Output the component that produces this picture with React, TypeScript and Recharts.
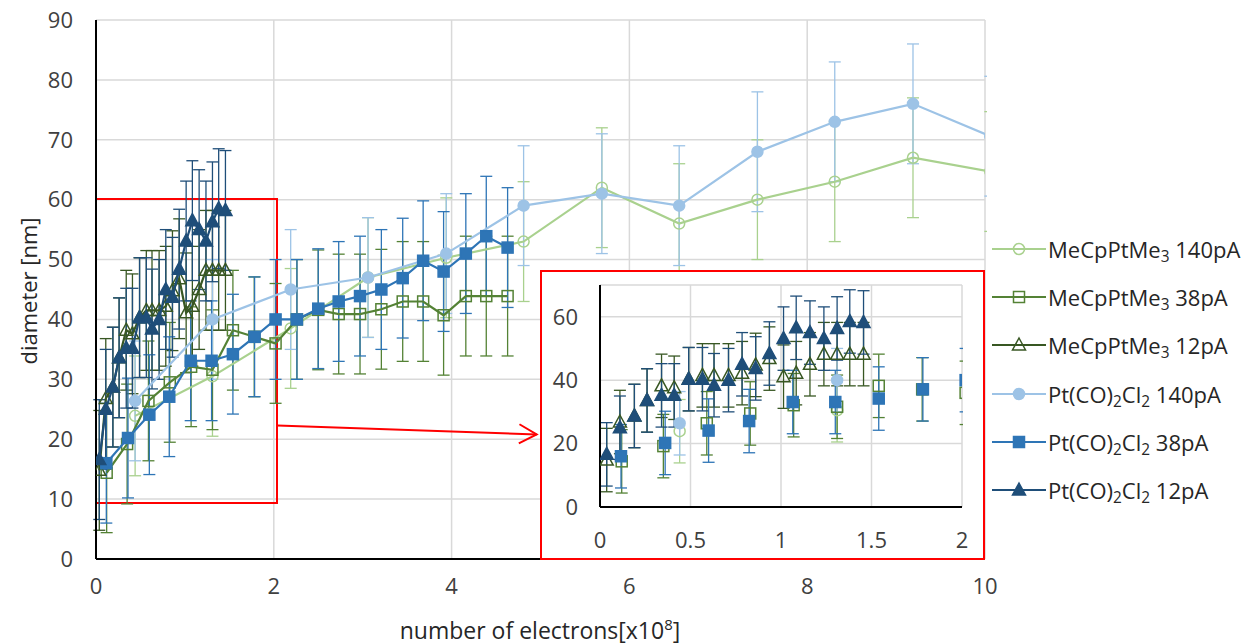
import type { ReactNode } from "react";
import {
	CartesianGrid,
	ComposedChart,
	ErrorBar,
	ReferenceArea,
	ReferenceLine,
	Scatter,
	XAxis,
	YAxis,
} from "recharts";

// x positions, in units of 10^8 electrons
const X_140 = [0.44, 1.31, 2.19, 3.06, 3.94, 4.81, 5.69, 6.56, 7.44, 8.31, 9.19, 10.06];
const X_38_MECP = [0.12, 0.35, 0.59, 0.83, 1.07, 1.31, 1.54, 1.78, 2.02, 2.26, 2.5, 2.73, 2.97, 3.21, 3.45, 3.68, 3.91, 4.16, 4.39, 4.63];
const X_38_PT = [0.116, 0.36, 0.6, 0.824, 1.065, 1.3, 1.54, 1.784, 2.02, 2.26, 2.5, 2.73, 2.97, 3.21, 3.45, 3.68, 3.91, 4.16, 4.39, 4.63];
const X_12 = [0.037, 0.11, 0.19, 0.26, 0.34, 0.41, 0.49, 0.566, 0.63, 0.71, 0.785, 0.86, 0.936, 1.014, 1.084, 1.16, 1.237, 1.31, 1.38, 1.456];

// diameters [nm]
const MECP_140 = [23.9, 30.5, 38.5, 47, 50.3, 53, 62, 56, 60, 63, 67, 64.7];
const MECP_38 = [14.4, 19.2, 26.4, 29.5, 32.1, 31.6, 38.2, 37.1, 36, 40, 41.6, 40.9, 40.9, 41.7, 43, 43, 40.7, 43.9, 43.9, 43.9];
const MECP_12 = [14.8, 26.8, 28.7, 33.6, 38.2, 37.6, 40.3, 41.5, 41.5, 41.5, 42.2, 44.8, 46.8, 41.1, 42.2, 45, 48.2, 48.2, 48.2, 48.2];
const PT_140 = [26.4, 40, 45, 47, 51, 59, 61, 59, 68, 73, 76, 70.6];
const PT_38 = [16, 20.2, 24.1, 27.1, 33.1, 33.1, 34.2, 37.1, 40, 40, 41.8, 43, 43.9, 45, 46.9, 49.8, 48, 51, 53.9, 52];
const PT_12 = [16.6, 25, 28.7, 33.6, 35.2, 35.2, 40.3, 40.3, 38.4, 40, 45, 43.7, 48.4, 53.1, 56.5, 55, 53.1, 56.3, 58.5, 58.2];

// error bar half-length [nm], same for every point
const ERR = 10;

const MAIN_X_TICKS = [0, 2, 4, 6, 8, 10];
const MAIN_Y_TICKS = [0, 10, 20, 30, 40, 50, 60, 70, 80, 90];
const INSET_X_TICKS = [0, 0.5, 1, 1.5, 2];
const INSET_Y_TICKS = [0, 20, 40, 60];

type Kind = "circle" | "square" | "triangle";

const toPoints = (xs: number[], ys: number[]) =>
	xs.map((x, i) => ({ x, y: ys[i], err: ERR }));

const SERIES = [
	{ key: "m140", pre: "mecp", cur: "140pA", xs: X_140, ys: MECP_140, color: "#a9d18e", kind: "circle" as Kind, filled: false },
	{ key: "m38", pre: "mecp", cur: "38pA", xs: X_38_MECP, ys: MECP_38, color: "#548235", kind: "square" as Kind, filled: false },
	{ key: "m12", pre: "mecp", cur: "12pA", xs: X_12, ys: MECP_12, color: "#385723", kind: "triangle" as Kind, filled: false },
	{ key: "p140", pre: "pt", cur: "140pA", xs: X_140, ys: PT_140, color: "#9dc3e6", kind: "circle" as Kind, filled: true },
	{ key: "p38", pre: "pt", cur: "38pA", xs: X_38_PT, ys: PT_38, color: "#2e75b6", kind: "square" as Kind, filled: true },
	{ key: "p12", pre: "pt", cur: "12pA", xs: X_12, ys: PT_12, color: "#1f4e79", kind: "triangle" as Kind, filled: true },
];

const FONT = "'Open Sans', Lato, sans-serif";
const TICK = { fill: "#404040", fontSize: 22 };

function Marker({ cx, cy, kind, color, filled }: any) {
	if (cx == null || cy == null) return null;
	const fill = filled ? color : "none";
	if (kind === "circle")
		return <circle cx={cx} cy={cy} r={5.5} fill={fill} stroke={color} strokeWidth={1.5} />;
	if (kind === "square")
		return <rect x={cx - 5.5} y={cy - 5.5} width={11} height={11} fill={fill} stroke={color} strokeWidth={1.5} />;
	return (
		<polygon
			points={`${cx},${cy - 7} ${cx + 6.5},${cy + 5} ${cx - 6.5},${cy + 5}`}
			fill={fill}
			stroke={color}
			strokeWidth={1.5}
		/>
	);
}

function Arrow(p: any) {
	const { x1, y1, x2, y2 } = p;
	const ang = Math.atan2(y2 - y1, x2 - x1);
	const L = 20;
	const W = 0.5;
	const a = `${x2 - L * Math.cos(ang - W)},${y2 - L * Math.sin(ang - W)}`;
	const b = `${x2 - L * Math.cos(ang + W)},${y2 - L * Math.sin(ang + W)}`;
	return (
		<g>
			<line x1={x1} y1={y1} x2={x2} y2={y2} stroke="#ff0000" strokeWidth={2} />
			<polyline points={`${a} ${x2},${y2} ${b}`} fill="none" stroke="#ff0000" strokeWidth={2} />
		</g>
	);
}

function label(pre: string, cur: string): ReactNode {
	const sub = { fontSize: "0.7em", verticalAlign: "-0.25em", lineHeight: 0 } as const;
	if (pre === "mecp")
		return (
			<>
				MeCpPtMe<span style={sub}>3</span> {cur}
			</>
		);
	return (
		<>
			Pt(CO)<span style={sub}>2</span>Cl<span style={sub}>2</span> {cur}
		</>
	);
}

function MainChart() {
	return (
		<ComposedChart width={1257} height={644} margin={{ top: 20, right: 272, bottom: 0, left: 0 }}>
			<CartesianGrid stroke="#d9d9d9" strokeWidth={1.5} />
			<XAxis
				type="number"
				dataKey="x"
				domain={[0, 10]}
				ticks={MAIN_X_TICKS}
				allowDataOverflow
				height={85}
				tickLine={false}
				tickSize={0}
				tickMargin={19}
				axisLine={{ stroke: "#000", strokeWidth: 2 }}
				tick={TICK}
			/>
			<YAxis
				type="number"
				domain={[0, 90]}
				ticks={MAIN_Y_TICKS}
				allowDataOverflow
				width={96}
				tickLine={false}
				tickSize={0}
				tickMargin={23}
				axisLine={{ stroke: "#000", strokeWidth: 2 }}
				tick={TICK}
			/>
			{SERIES.map((s) => (
				<Scatter
					key={s.key}
					data={toPoints(s.xs, s.ys)}
					dataKey="y"
					line={{ stroke: s.color, strokeWidth: 2.2 }}
					shape={(p: any) => <Marker {...p} kind={s.kind} color={s.color} filled={s.filled} />}
					isAnimationActive={false}
				>
					<ErrorBar dataKey="err" direction="y" width={6} stroke={s.color} strokeWidth={1.3} isAnimationActive={false} />
				</Scatter>
			))}
			<ReferenceArea x1={0} x2={2.036} y1={9.35} y2={60.1} fill="none" stroke="#ff0000" strokeWidth={2} />
			<ReferenceLine
				segment={[
					{ x: 2.04, y: 22.3 },
					{ x: 4.957, y: 20.8 },
				]}
				shape={Arrow}
			/>
		</ComposedChart>
	);
}

function InsetChart() {
	return (
		<ComposedChart width={441} height={286} margin={{ top: 13, right: 21, bottom: 0, left: 0 }}>
			<CartesianGrid stroke="#d9d9d9" strokeWidth={1.5} />
			<XAxis
				type="number"
				dataKey="x"
				domain={[0, 2]}
				ticks={INSET_X_TICKS}
				allowDataOverflow
				height={51}
				tickLine={false}
				tickSize={0}
				tickMargin={25}
				axisLine={{ stroke: "#000", strokeWidth: 2 }}
				tick={TICK}
			/>
			<YAxis
				type="number"
				domain={[0, 70]}
				ticks={INSET_Y_TICKS}
				allowDataOverflow
				width={58}
				tickLine={false}
				tickSize={0}
				tickMargin={22}
				axisLine={{ stroke: "#000", strokeWidth: 2 }}
				tick={TICK}
			/>
			{SERIES.map((s) => (
				<Scatter
					key={s.key}
					data={toPoints(s.xs, s.ys)}
					dataKey="y"
					shape={(p: any) => <Marker {...p} kind={s.kind} color={s.color} filled={s.filled} />}
					isAnimationActive={false}
				>
					<ErrorBar dataKey="err" direction="y" width={6} stroke={s.color} strokeWidth={1.3} isAnimationActive={false} />
				</Scatter>
			))}
		</ComposedChart>
	);
}

export default function App() {
	return (
		<div style={{ position: "absolute", left: 0, top: 0, width: 1257, height: 644, fontFamily: FONT, background: "#fff" }}>
			<MainChart />
			{/* hides error bars of points that lie past the x=10 edge */}
			<div style={{ position: "absolute", left: 987, top: 0, width: 270, height: 560, background: "#fff" }} />
			<div
				style={{
					position: "absolute",
					left: 540,
					top: 270,
					width: 445,
					height: 290,
					boxSizing: "border-box",
					border: "2px solid #ff0000",
					background: "#fff",
				}}
			>
				<InsetChart />
				{/* hides error bars of points that lie past the x=2 edge */}
				<div style={{ position: "absolute", left: 421, top: 8, width: 20, height: 227, background: "#fff" }} />
			</div>
			<div
				style={{
					position: "absolute",
					left: 28,
					top: 291,
					transform: "translate(-50%, -50%) rotate(-90deg)",
					whiteSpace: "nowrap",
					fontSize: 22,
					color: "#262626",
				}}
			>
				diameter [nm]
			</div>
			<div
				style={{
					position: "absolute",
					left: 540,
					top: 630,
					transform: "translate(-50%, -50%)",
					whiteSpace: "nowrap",
					fontSize: 23,
					color: "#262626",
				}}
			>
				number of electrons[x10<sup style={{ fontSize: "0.65em", lineHeight: 0 }}>8</sup>]
			</div>
			<div style={{ position: "absolute", left: 992, top: 225 }}>
				{SERIES.map((s) => (
					<div key={s.key} style={{ display: "flex", alignItems: "center", height: 48.2, fontSize: 22, color: "#262626", whiteSpace: "nowrap" }}>
						<svg width={54} height={20} style={{ marginRight: 2 }}>
							<line x1={0} y1={10} x2={54} y2={10} stroke={s.color} strokeWidth={2.2} />
							<Marker cx={27} cy={10} kind={s.kind} color={s.color} filled={s.filled} />
						</svg>
						<span>{label(s.pre, s.cur)}</span>
					</div>
				))}
			</div>
		</div>
	);
}
